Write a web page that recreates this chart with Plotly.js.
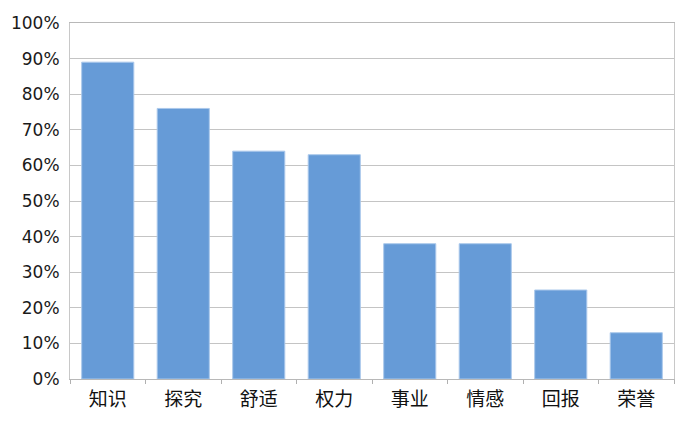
<!DOCTYPE html>
<html>
<head>
<meta charset="utf-8">
<script src="https://cdn.plot.ly/plotly-3.0.1.min.js"></script>
<style>body{margin:0;background:#fff}#chart{width:700px;height:423px}</style>
</head>
<body>
<div id="chart"></div>
<script>
var categories = ['知识', '探究', '舒适', '权力', '事业', '情感', '回报', '荣誉'];
var shares = [0.89, 0.76, 0.64, 0.63, 0.38, 0.38, 0.25, 0.13];

var trace = {
    x: categories,
    y: shares,
    type: 'bar',
    marker: {color: 'rgb(102, 155, 215)', line: {color: 'rgb(170, 200, 235)', width: 1}},
    hoverinfo: 'none'
};

var layout = {
    width: 700,
    height: 423,
    margin: {l: 70, r: 26, t: 23, b: 44},
    paper_bgcolor: '#fff',
    plot_bgcolor: '#fff',
    bargap: 0.31,
    showlegend: false,
    font: {family: 'DejaVu Sans, "Noto Sans CJK SC", sans-serif', size: 17, color: '#1a1a1a'},
    xaxis: {
        tickson: 'boundaries',
        ticks: 'outside',
        ticklen: 4,
        tickcolor: '#b0b0b0',
        showline: true,
        linecolor: '#b8b8b8',
        mirror: true,
        showgrid: false,
        ticklabelstandoff: 3,
        tickfont: {family: '"Noto Sans CJK SC", sans-serif', size: 19, color: '#111'}
    },
    yaxis: {
        range: [0, 1],
        dtick: 0.1,
        tickformat: '.0%',
        showgrid: true,
        gridcolor: '#c4c4c4',
        showline: true,
        linecolor: '#c8c8c8',
        mirror: true,
        ticks: '',
        ticklabelstandoff: 6,
        zeroline: false
    }
};

Plotly.newPlot('chart', [trace], layout, {displayModeBar: false, staticPlot: true});
</script>
</body>
</html>
